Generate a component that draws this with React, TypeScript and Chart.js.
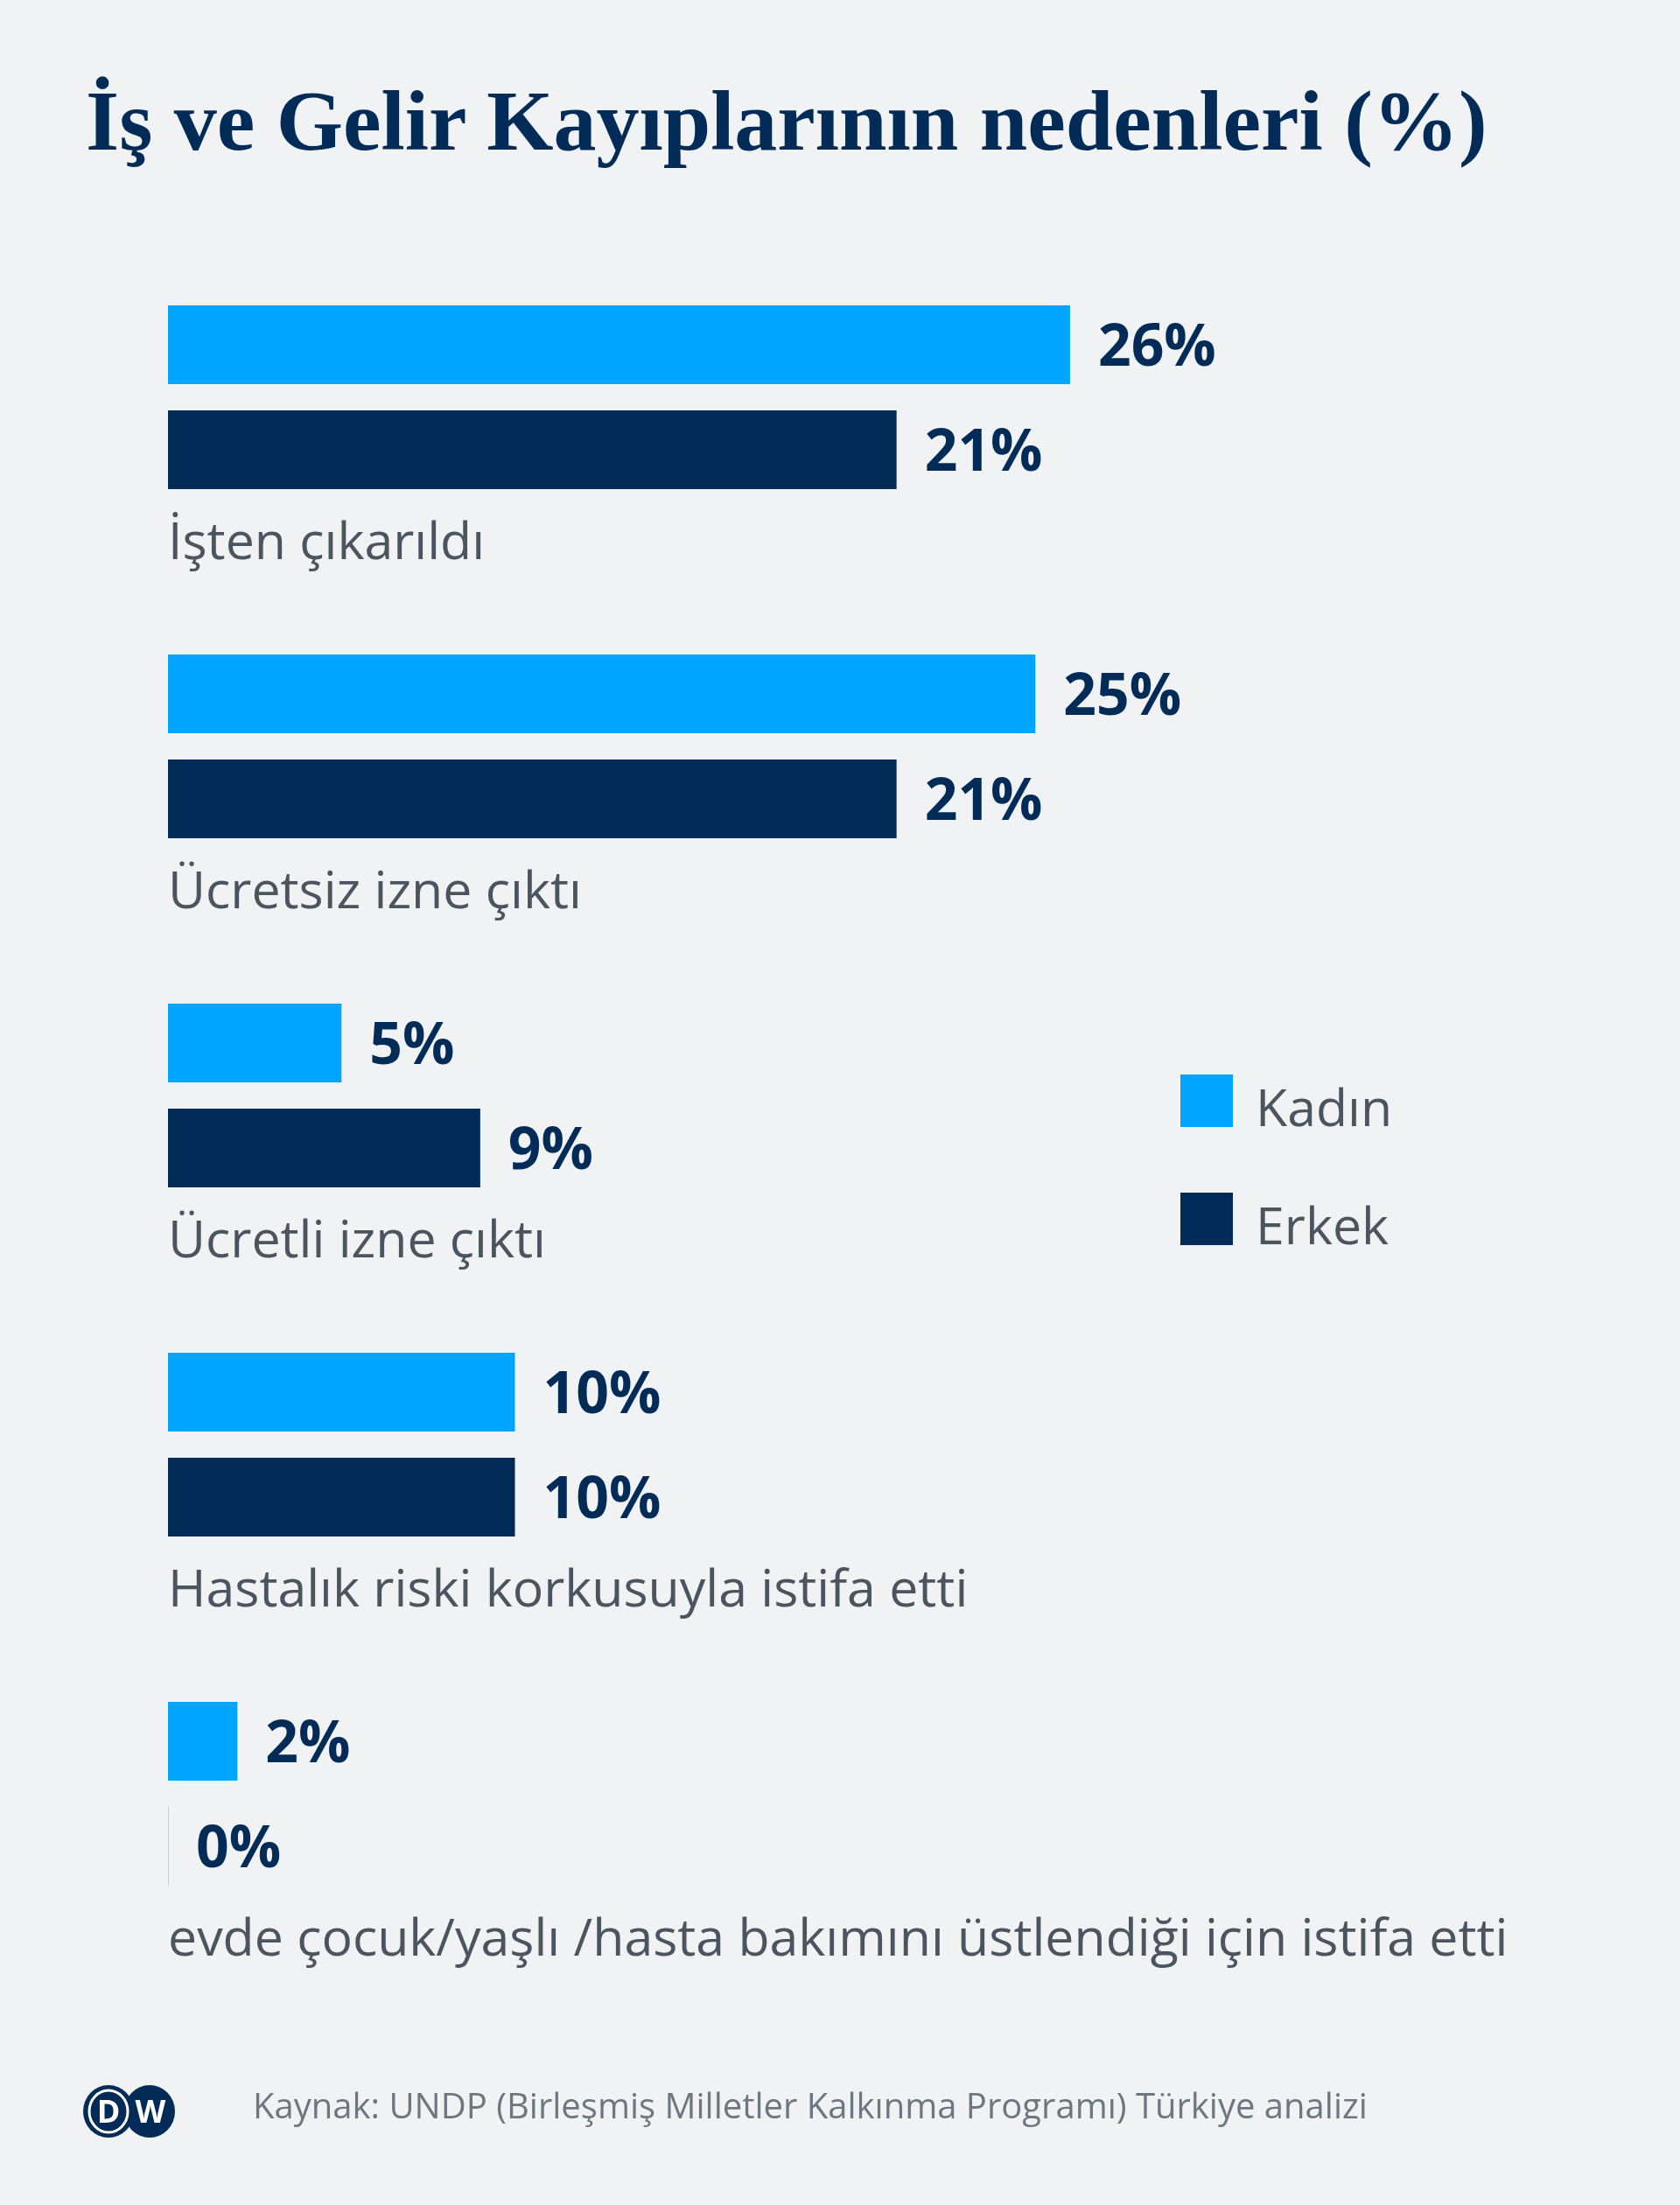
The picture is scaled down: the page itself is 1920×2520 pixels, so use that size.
import React, { useEffect, useRef } from "react";
import { Chart, registerables } from "chart.js";

Chart.register(...registerables);

const categories = [
  "İşten çıkarıldı",
  "Ücretsiz izne çıktı",
  "Ücretli izne çıktı",
  "Hastalık riski korkusuyla istifa etti",
  "evde çocuk/yaşlı /hasta bakımını üstlendiği için istifa etti",
];
const seriesNames = ["Kadın", "Erkek"];
const kadinValues = [26, 25, 5, 10, 2];
const erkekValues = [21, 21, 9, 10, 0];
const titleText = "İş ve Gelir Kayıplarının nedenleri (%)";
const sourceText = "Kaynak: UNDP (Birleşmiş Milletler Kalkınma Programı) Türkiye analizi";

const BG = "#f1f2f4";
const LIGHT = "#00a5ff";
const NAVY = "#022c57";
const GRAY = "#4b5560";
const SANS = "'Open Sans', 'Noto Sans', sans-serif";

const valueLabels = {
  id: "valueLabels",
  afterDatasetsDraw(chart: any) {
    const ctx = chart.ctx;
    ctx.save();
    chart.data.datasets.forEach((ds: any, di: number) => {
      const meta = chart.getDatasetMeta(di);
      meta.data.forEach((el: any, i: number) => {
        const v = ds.data[i];
        const p = el.getProps(["x", "y", "base", "height"], true);
        if (v === 0) {
          ctx.strokeStyle = "#c6cdd6";
          ctx.lineWidth = 1;
          ctx.beginPath();
          ctx.moveTo(Math.round(p.base) + 0.5, p.y - p.height / 2);
          ctx.lineTo(Math.round(p.base) + 0.5, p.y + p.height / 2);
          ctx.stroke();
        }
        ctx.font = `bold 66px ${SANS}`;
        ctx.fillStyle = NAVY;
        ctx.textAlign = "left";
        ctx.textBaseline = "alphabetic";
        ctx.fillText(`${v}%`, p.x + 32, p.y + 24);
      });
    });
    ctx.restore();
  },
};

function BarChart() {
  const ref = useRef<HTMLCanvasElement | null>(null);
  useEffect(() => {
    if (!ref.current) return;
    const chart = new Chart(ref.current, {
      type: "bar",
      data: {
        labels: categories,
        datasets: [
          {
            label: seriesNames[0],
            data: kadinValues,
            backgroundColor: LIGHT,
            borderWidth: 0,
          },
          {
            label: seriesNames[1],
            data: erkekValues,
            backgroundColor: NAVY,
            borderWidth: 0,
          },
        ],
      },
      options: {
        indexAxis: "y",
        responsive: false,
        animation: false,
        devicePixelRatio: 1,
        layout: { padding: { left: 192, top: 254.5, right: 142, bottom: 270.5 } },
        datasets: {
          bar: { barPercentage: 0.75, categoryPercentage: 240 / 399 },
        },
        plugins: {
          legend: { display: false },
          tooltip: { enabled: false },
        },
        scales: {
          x: { display: false, min: 0, max: 40 },
          y: {
            type: "category",
            grid: { display: false, drawTicks: false },
            border: { display: false },
            ticks: {
              mirror: true,
              padding: 0,
              labelOffset: 168,
              color: GRAY,
              font: { family: SANS, size: 59, weight: "normal" },
              autoSkip: false,
            },
          },
        },
      },
      plugins: [valueLabels],
    } as any);
    return () => chart.destroy();
  }, []);
  return (
    <canvas
      ref={ref}
      width={1920}
      height={2520}
      style={{ position: "absolute", left: 0, top: 0, width: 1920, height: 2520 }}
    />
  );
}

export default function App() {
  useEffect(() => {
    document.body.style.margin = "0";
    document.body.style.background = BG;
  }, []);
  return (
    <div style={{ position: "absolute", left: 0, top: 0, width: 1920, height: 2520, background: BG, overflow: "hidden" }}>
      <BarChart />
      <svg width={1920} height={2520} style={{ position: "absolute", left: 0, top: 0, pointerEvents: "none" }}>
        <text x={98} y={171} fill={NAVY} style={{ font: "bold 98px 'Liberation Serif', serif" }}>
          {titleText}
        </text>
        <rect x={1349} y={1228} width={60} height={60} fill={LIGHT} />
        <rect x={1349} y={1363} width={60} height={60} fill={NAVY} />
        <text x={1435} y={1287} fill={GRAY} style={{ font: `59px ${SANS}` }}>{seriesNames[0]}</text>
        <text x={1435} y={1422} fill={GRAY} style={{ font: `59px ${SANS}` }}>{seriesNames[1]}</text>
        <g>
          <ellipse cx={124} cy={2413} rx={29} ry={30} fill={NAVY} />
          <ellipse cx={171} cy={2413} rx={29} ry={30} fill={NAVY} />
          <ellipse cx={124} cy={2413} rx={22} ry={24} fill="none" stroke="#ffffff" strokeWidth={3} />
          <text x={124} y={2426} textAnchor="middle" fill="#ffffff" style={{ font: `bold 36px ${SANS}` }}>D</text>
          <text x={172} y={2426} textAnchor="middle" fill="#ffffff" style={{ font: `bold 36px ${SANS}` }}>W</text>
        </g>
        <text x={289} y={2421} fill="#6d7781" style={{ font: `40px ${SANS}` }}>{sourceText}</text>
      </svg>
    </div>
  );
}
